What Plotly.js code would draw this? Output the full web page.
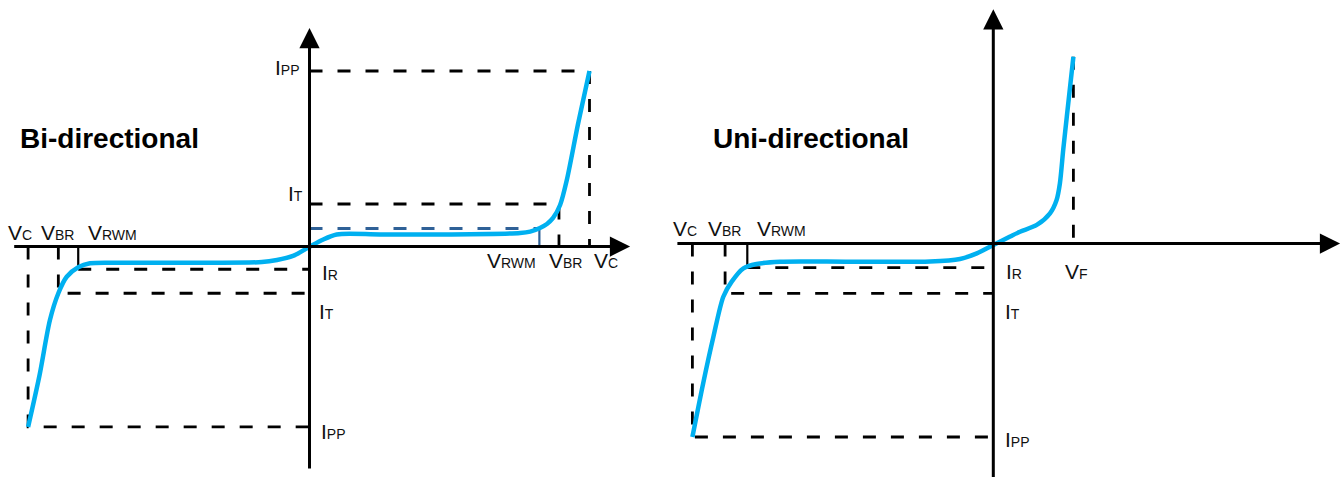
<!DOCTYPE html>
<html>
<head>
<meta charset="utf-8">
<script src="https://cdn.plot.ly/plotly-3.0.1.min.js"></script>
<style>
  html, body { margin: 0; padding: 0; background: #fff; }
  #chart { width: 1343px; height: 479px; }
</style>
</head>
<body>
<div id="chart"></div>
<script>
// Bi-directional TVS curve (diagram units)
const biV = [-10.05, -9.64, -9.27, -8.97, -8.67, -8.26, -7.84, -6.77, -3.91, -1.70, -1.16, -0.59, 0.02,
             0.45, 0.97, 2.52, 5.02, 7.52, 7.88, 8.23, 8.48, 8.70, 8.95, 9.19, 9.59, 10.0];
const biI = [-10.31, -7.34, -4.20, -2.67, -1.73, -1.19, -0.96, -0.93, -0.93, -0.89, -0.77, -0.54, 0.0,
             0.37, 0.69, 0.69, 0.69, 0.77, 0.85, 1.06, 1.29, 1.63, 2.37, 3.80, 7.0, 10.03];

// [negative side, positive side]
const biVC = [-10.05, 10.0];
const biVBR = [-8.97, 8.91];
const biVRWM = [-8.26, 8.21];
const biIPP = [-10.31, 10.03];
const biIT = [-2.67, 2.43];
const biIR = [-1.30, 1.03];

// Uni-directional TVS curve
const uniV = [-10.03, -9.67, -9.33, -9.00, -8.72, -8.33, -7.89, -7.11, -4.78, -2.11, -1.11, -0.55, 0.0,
              0.56, 0.89, 1.45, 1.89, 2.11, 2.22, 2.33, 2.45, 2.67];
const uniI = [-10.0, -7.22, -4.82, -2.75, -1.97, -1.28, -1.06, -0.94, -0.94, -0.93, -0.80, -0.51, -0.08,
              0.36, 0.61, 0.96, 1.56, 2.25, 3.11, 4.83, 6.55, 9.65];

const uniVC = -10.03;
const uniVBR = -8.94;
const uniVRWM = -8.2;
const uniVF = 2.67;
const uniIPP = -10.0;
const uniIT = -2.58;
const uniIR = -1.25;
const uniIF = 9.65;

// axis extents (diagram units)
const biAxisX = [-10.6, 11.45];
const biAxisY = [-12.77, 12.49];
const uniAxisX = [-10.58, 11.56];
const uniAxisY = [-12.15, 12.1];

// ---------- layout geometry ----------
const H = 479;
const biFrame = {ox: 309.5, oy: 246.5, sx: 28, sy: 17.5, left: 0, right: 671.5};
const uniFrame = {ox: 993.3, oy: 243.5, sx: 30, sy: 19.35, left: 671.5, right: 1343};

function xRange(f) { return [(f.left - f.ox) / f.sx, (f.right - f.ox) / f.sx]; }
function yRange(f) { return [(f.oy - H) / f.sy, f.oy / f.sy]; }

const BLUE = "#00b0f0";
const DARKBLUE = "#2f6197";
const DASH = "13px,15px";
const FONT = 'Arial, "Liberation Sans", sans-serif';

function dashed(xs, ys, ax, color) {
    return {
        x: xs, y: ys, xaxis: ax[0], yaxis: ax[1],
        type: "scatter", mode: "lines", hoverinfo: "skip",
        line: {color: color || "#000", width: 2.8, dash: DASH}
    };
}
function solid(xs, ys, ax, color) {
    return {
        x: xs, y: ys, xaxis: ax[0], yaxis: ax[1],
        type: "scatter", mode: "lines", hoverinfo: "skip",
        line: {color: color || "#000", width: 2.2}
    };
}

const L = ["x", "y"], R = ["x2", "y2"];

const traces = [
    // bi-directional, positive side
    dashed([0, biVC[1], biVC[1]], [biIPP[1], biIPP[1], 0], L),
    dashed([0, biVBR[1], biVBR[1]], [biIT[1], biIT[1], 0], L),
    dashed([0, biVRWM[1]], [biIR[1], biIR[1]], L, DARKBLUE),
    solid([biVRWM[1], biVRWM[1]], [biIR[1], 0], L, DARKBLUE),
    // bi-directional, negative side
    dashed([biVC[0], biVC[0], 0], [0, biIPP[0], biIPP[0]], L),
    dashed([biVBR[0], biVBR[0], 0], [0, biIT[0], biIT[0]], L),
    dashed([biVRWM[0], 0], [biIR[0], biIR[0]], L),
    solid([biVRWM[0], biVRWM[0]], [0, biIR[0]], L),
    // uni-directional
    dashed([uniVF, uniVF], [uniIF, 0], R),
    dashed([uniVC, uniVC, 0], [0, uniIPP, uniIPP], R),
    dashed([uniVBR, uniVBR, 0], [0, uniIT, uniIT], R),
    dashed([uniVRWM, 0], [uniIR, uniIR], R),
    solid([uniVRWM, uniVRWM], [0, uniIR], R),
    // curves
    {x: biV, y: biI, xaxis: "x", yaxis: "y", type: "scatter", mode: "lines", hoverinfo: "skip",
     line: {color: BLUE, width: 4.5, shape: "spline", smoothing: 0.8}},
    {x: uniV, y: uniI, xaxis: "x2", yaxis: "y2", type: "scatter", mode: "lines", hoverinfo: "skip",
     line: {color: BLUE, width: 4.5, shape: "spline", smoothing: 0.8}}
];

function arrow(ax, x0, y0, x1, y1) {
    return {
        xref: ax[0], yref: ax[1], axref: ax[0], ayref: ax[1],
        ax: x0, ay: y0, x: x1, y: y1, text: "",
        showarrow: true, arrowhead: 2, arrowsize: 1.35, arrowwidth: 3,
        arrowcolor: "#000", standoff: 0
    };
}

function sub(main, s) {
    return main + '<span style="font-size:14px">' + s + "</span>";
}

function label(ax, x, y, text, xanchor, xshift, yshift) {
    return {
        xref: ax[0], yref: ax[1], x: x, y: y, text: text,
        showarrow: false, xanchor: xanchor, yanchor: "middle",
        xshift: xshift, yshift: yshift, borderpad: 0,
        font: {family: FONT, size: 21, color: "#111"}
    };
}

const annotations = [
    arrow(L, 0, biAxisY[0], 0, biAxisY[1]),
    arrow(L, biAxisX[0], 0, biAxisX[1], 0),
    arrow(R, 0, uniAxisY[0], 0, uniAxisY[1]),
    arrow(R, uniAxisX[0], 0, uniAxisX[1], 0),

    // bi-directional labels
    label(L, biVC[0], 0, sub("V", "C"), "center", -8, 14),
    label(L, biVBR[0], 0, sub("V", "BR"), "center", -1, 14),
    label(L, biVRWM[0], 0, sub("V", "RWM"), "left", 9, 14),
    label(L, biVRWM[1], 0, sub("V", "RWM"), "right", -2, -14),
    label(L, biVBR[1], 0, sub("V", "BR"), "center", 7, -14),
    label(L, biVC[1], 0, sub("V", "C"), "center", 16, -14),
    label(L, 0, biIPP[1], sub("I", "PP"), "right", -9, 3),
    label(L, 0, biIT[1], sub("I", "T"), "right", -6, 10),
    label(L, 0, biIR[0], sub("I", "R"), "left", 11, -3),
    label(L, 0, biIT[0], sub("I", "T"), "left", 8, -18),
    label(L, 0, biIPP[0], sub("I", "PP"), "left", 10, -5),

    // uni-directional labels
    label(R, uniVC, 0, sub("V", "C"), "center", -7, 15),
    label(R, uniVBR, 0, sub("V", "BR"), "center", -1, 15),
    label(R, uniVRWM, 0, sub("V", "RWM"), "left", 9, 15),
    label(R, uniVF, 0, sub("V", "F"), "center", 3, -28),
    label(R, 0, uniIR, sub("I", "R"), "left", 12, -4),
    label(R, 0, uniIT, sub("I", "T"), "left", 11, -18),
    label(R, 0, uniIPP, sub("I", "PP"), "left", 11, -2),

    {xref: "paper", yref: "paper", x: 18.5 / 1343, y: 1 - 138.5 / H, xanchor: "left", yanchor: "middle",
     text: "<b>Bi-directional</b>", showarrow: false, borderpad: 0,
     font: {family: FONT, size: 28, color: "#000"}},
    {xref: "paper", yref: "paper", x: 711.5 / 1343, y: 1 - 138.5 / H, xanchor: "left", yanchor: "middle",
     text: "<b>Uni-directional</b>", showarrow: false, borderpad: 0,
     font: {family: FONT, size: 28, color: "#000"}}
];

const hidden = {visible: false, showgrid: false, zeroline: false, fixedrange: true};

const layout = {
    width: 1343, height: 479,
    margin: {t: 0, r: 0, b: 0, l: 0},
    paper_bgcolor: "#fff", plot_bgcolor: "#fff",
    showlegend: false,
    xaxis: Object.assign({domain: [0, 0.5], range: xRange(biFrame)}, hidden),
    yaxis: Object.assign({domain: [0, 1], range: yRange(biFrame)}, hidden),
    xaxis2: Object.assign({domain: [0.5, 1], range: xRange(uniFrame), anchor: "y2"}, hidden),
    yaxis2: Object.assign({domain: [0, 1], range: yRange(uniFrame), anchor: "x2"}, hidden),
    annotations: annotations
};

Plotly.newPlot("chart", traces, layout, {displayModeBar: false, staticPlot: true});
</script>
</body>
</html>
